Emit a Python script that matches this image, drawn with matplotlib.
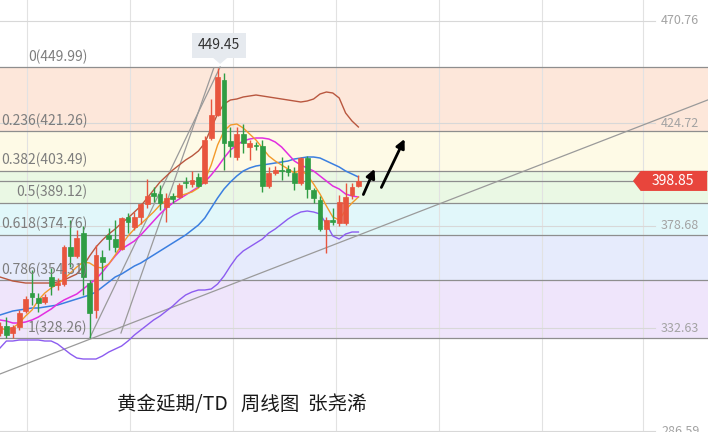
import matplotlib.pyplot as plt
from matplotlib.patches import Rectangle, Polygon

plt.rcParams['font.family'] = ['Noto Sans CJK SC', 'DejaVu Sans']

# weekly candles (index 0..56)
opens = [330.59, 333.73, 330.59, 333.28, 340.46, 348.54, 346.30, 344.50, 355.73, 352.13,
         352.58, 369.19, 365.15, 375.47, 353.03, 340.91, 364.70, 374.58, 372.78, 368.29,
         382.65, 378.17, 382.65, 388.49, 393.43, 392.98, 387.14, 392.08, 391.63, 398.36,
         397.47, 400.61, 397.91, 418.11, 428.43, 444.14, 416.77, 409.58, 419.91, 414.07,
         414.97, 414.52, 396.57, 402.40, 403.75, 404.20, 402.40, 397.91, 409.13, 394.77,
         390.29, 377.27, 381.31, 379.96, 379.96, 392.53, 396.57]
highs = [335.53, 337.77, 334.18, 340.91, 347.20, 358.87, 348.54, 348.09, 359.76, 355.28,
         370.09, 381.31, 376.82, 378.61, 354.38, 370.09, 367.84, 377.72, 381.31, 382.65,
         384.45, 384.90, 388.94, 399.71, 396.12, 397.02, 393.43, 393.43, 397.91, 400.61,
         403.30, 402.40, 419.01, 435.62, 449.45, 447.29, 423.05, 423.05, 424.40, 417.21,
         416.32, 417.21, 405.10, 405.55, 409.58, 406.00, 405.10, 409.58, 410.03, 395.67,
         392.08, 382.65, 386.69, 392.53, 397.91, 397.91, 401.51]
lows = [329.24, 328.50, 328.34, 331.94, 339.57, 343.16, 340.02, 343.61, 347.65, 349.89,
        351.69, 360.21, 364.25, 347.65, 328.26, 337.32, 354.38, 367.84, 366.95, 367.84,
        375.47, 376.82, 379.51, 386.69, 389.39, 385.80, 380.41, 388.94, 391.18, 395.67,
        396.12, 396.12, 397.47, 417.21, 427.99, 403.75, 409.58, 408.24, 411.38, 408.24,
        412.73, 393.88, 395.67, 401.51, 399.26, 401.06, 394.77, 397.02, 391.18, 388.94,
        376.37, 366.50, 379.06, 378.61, 379.06, 390.73, 396.12]
closes = [333.73, 329.69, 333.28, 339.57, 345.85, 346.75, 344.05, 346.75, 351.69, 353.03,
          369.19, 365.15, 373.23, 355.73, 339.57, 365.60, 362.46, 372.78, 369.19, 382.20,
          380.41, 382.65, 388.49, 392.08, 392.08, 388.94, 391.18, 390.73, 397.02, 397.91,
          399.26, 396.57, 417.21, 428.43, 445.49, 415.87, 414.52, 419.91, 415.87, 415.87,
          414.52, 396.57, 402.40, 403.75, 403.30, 402.85, 397.91, 409.13, 395.22, 391.18,
          377.27, 381.31, 380.41, 389.39, 391.63, 396.12, 398.85]

# indicator lines
ma_orange = [332.83, 331.94, 332.83, 335.08, 338.22, 340.91, 345.40, 348.54, 350.79, 352.58,
             354.83, 357.52, 360.21, 362.46, 362.01, 360.21, 359.76, 361.56, 365.60, 370.09,
             374.13, 377.27, 379.51, 382.20, 384.90, 388.04, 390.29, 391.63, 392.08, 392.98,
             393.88, 395.67, 399.26, 406.00, 414.97, 421.26, 423.95, 424.40, 422.60, 419.91,
             417.21, 413.63, 410.03, 407.79, 406.00, 404.20, 402.40, 403.75, 401.51, 397.47,
             392.98, 387.59, 382.65, 381.31, 385.80, 388.94, 391.63]
ma_magenta = [336.43, 335.98, 335.08, 335.08, 335.53, 336.43, 337.77, 339.57, 341.36, 343.61,
              345.40, 346.75, 348.09, 350.34, 352.58, 354.83, 357.97, 361.56, 365.15, 368.29,
              370.09, 371.88, 374.58, 377.72, 380.86, 384.00, 386.69, 388.94, 390.73, 392.53,
              394.33, 396.12, 398.36, 401.51, 405.10, 409.13, 412.73, 414.97, 416.77, 417.66,
              418.11, 418.11, 417.66, 416.32, 414.07, 410.93, 407.79, 406.00, 404.65, 403.30,
              401.06, 398.81, 396.57, 395.22, 392.98, 392.08, 391.63]
ma_blue = [338.67, 339.57, 340.46, 340.91, 341.36, 341.81, 341.81, 342.26, 342.71, 343.16,
           344.05, 344.95, 345.85, 346.75, 347.65, 348.99, 351.24, 353.48, 355.73, 357.07,
           358.87, 360.66, 362.01, 363.81, 365.60, 367.40, 369.19, 370.99, 372.78, 374.58,
           376.82, 379.06, 382.20, 386.69, 391.18, 395.22, 398.36, 401.06, 403.30, 404.65,
           405.55, 406.00, 406.44, 406.89, 407.34, 407.79, 408.69, 409.13, 409.58, 409.58,
           409.13, 407.79, 406.44, 405.10, 403.30, 401.96, 400.61]
boll_upper = [355.73, 354.83, 353.93, 353.48, 353.03, 353.03, 353.03, 353.03, 353.03, 353.48,
              354.38, 355.73, 357.07, 360.66, 365.15, 369.19, 372.33, 375.02, 377.27, 379.96,
              382.20, 384.90, 387.59, 391.18, 394.77, 398.36, 401.06, 403.75, 406.00, 408.24,
              410.03, 412.28, 415.87, 422.60, 428.89, 433.37, 435.17, 435.62, 436.52, 436.97,
              437.41, 436.97, 436.52, 436.07, 435.62, 435.17, 434.72, 434.27, 434.72, 435.62,
              437.86, 438.76, 438.31, 436.07, 429.34, 425.74, 423.05]
boll_lower = [323.86, 327.00, 327.00, 327.45, 327.45, 327.45, 327.45, 327.00, 327.00, 325.65,
              323.41, 321.16, 319.37, 318.92, 318.92, 318.92, 320.26, 322.06, 323.41, 324.75,
              327.00, 329.69, 331.94, 334.18, 336.43, 338.22, 340.46, 342.71, 345.40, 347.65,
              348.99, 349.89, 349.89, 350.34, 352.58, 356.17, 360.66, 364.70, 367.40, 369.19,
              370.99, 372.78, 375.47, 377.27, 379.51, 381.76, 383.55, 384.90, 385.35, 384.90,
              384.00, 379.51, 374.13, 372.78, 375.02, 375.92, 375.92]

fib_ratios = ['0', '0.236', '0.382', '0.5', '0.618', '0.786', '1']
fib_levels = [449.99, 421.26, 403.49, 389.12, 374.76, 354.31, 328.26]
fib_colors = ['#fde7da', '#fefae6', '#eaf8e4', '#e1f7fa', '#e6ebfc', '#efe5fb']

axis_prices = [470.76, 424.72, 378.68, 332.63, 286.59]
last_price = 398.85
peak_idx = 34

# drawn trend lines (bar index, price)
steep_x, steep_y = [14, 34.4], [328.26, 449.99]
steep2_x, steep2_y = [18.9, 33.4], [330.6, 449.5]
flat_x, flat_y = [0, 110.6], [312.2, 435.2]

RED = '#e8553e'
GREEN = '#2f9d44'

fig = plt.figure(figsize=(7.08, 4.32), dpi=100)
ax = fig.add_axes([0, 0, 1, 1])
ax.set_xlim(0, 110.625)
ax.set_ylim(286.16, 480.05)
ax.axis('off')

# fib bands
for k in range(len(fib_colors)):
    ax.axhspan(fib_levels[k + 1], fib_levels[k], color=fib_colors[k], lw=0, zorder=0)

# grid
for gx in [4.2, 20.3, 36.4, 52.5, 68.6, 84.7, 100.5]:
    ax.axvline(gx, color='#e2e2e2', lw=0.8, zorder=0.5)
for p in axis_prices:
    ax.plot([0, 102.3], [p, p], color='#d8d8d8', lw=0.8, zorder=0.5)
    ax.text(103.3, p, f'{p:.2f}', color='#a3a3a3', fontsize=9, va='center', ha='left', zorder=6)

# fib lines + labels
for r, lv in zip(fib_ratios, fib_levels):
    ax.axhline(lv, color='#8e8e8e', lw=0.9, zorder=1)
    ax.annotate(f'{r}({lv:.2f})', xy=(13.7, lv), xytext=(0, 7.5), textcoords='offset points',
                ha='right', va='center', fontsize=10, color='#7d7d7d', zorder=6)

# current price line
ax.plot([0, 99], [last_price, last_price], color='#8e8e8e', lw=0.9, zorder=1)

# trend lines
for xs, ys in [(steep_x, steep_y), (steep2_x, steep2_y), (flat_x, flat_y)]:
    ax.plot(xs, ys, color='#9a9a9a', lw=0.9, zorder=2)

# indicators
idx = list(range(len(closes)))
ax.plot(idx, boll_upper, color='#b9573f', lw=1.0, zorder=3)
ax.plot(idx, boll_lower, color='#8c5cf0', lw=1.0, zorder=3)
ax.plot(idx, ma_blue, color='#3b7fe0', lw=1.1, zorder=3)
ax.plot(idx, ma_magenta, color='#e22ee0', lw=1.1, zorder=3)
ax.plot(idx, ma_orange, color='#f39a2a', lw=1.0, zorder=3)

# candles
w = 0.78
for i, (o, h, l, c) in enumerate(zip(opens, highs, lows, closes)):
    col = RED if c >= o else GREEN
    ax.vlines(i, l, h, color=col, lw=1.0, zorder=4)
    ax.add_patch(Rectangle((i - w / 2, min(o, c)), w, max(abs(c - o), 0.4),
                           facecolor=col, edgecolor=col, lw=0.5, zorder=4))

# arrows
for (x0, y0), (x1, y1) in [((56.6, 391.6), (58.7, 405.4)), ((59.4, 394.8), (63.4, 418.8))]:
    ax.annotate('', xy=(x1, y1), xytext=(x0, y0),
                arrowprops=dict(arrowstyle='-|>', color='black', lw=2.0, mutation_scale=13),
                zorder=5)

# peak label
ph = highs[peak_idx]
ax.add_patch(Rectangle((30.0, ph + 4.6), 8.4, 11.2, facecolor='#e6eaef', edgecolor='none', zorder=5))
ax.add_patch(Polygon([(33.3, ph + 4.6), (35.5, ph + 4.6), (34.4, ph + 1.9)],
                     facecolor='#e6eaef', edgecolor='none', zorder=5))
ax.text(34.2, ph + 10.2, f'{ph:.2f}', fontsize=10, color='#333333', ha='center', va='center', zorder=6)

# last price tag
ax.add_patch(Polygon([(98.9, last_price), (100.1, last_price + 4.5), (110.5, last_price + 4.5),
                      (110.5, last_price - 4.5), (100.1, last_price - 4.5)],
                     facecolor='#e8453c', edgecolor='none', zorder=6))
ax.text(105.2, last_price, f'{last_price:.2f}', color='white', fontsize=10, ha='center',
        va='center', zorder=7)

ax.text(18.3, 298.6, '黄金延期/TD   周线图  张尧浠', fontsize=14, color='#1a1a1a',
        ha='left', va='center', zorder=6)

fig.savefig('out.png', dpi=100)
